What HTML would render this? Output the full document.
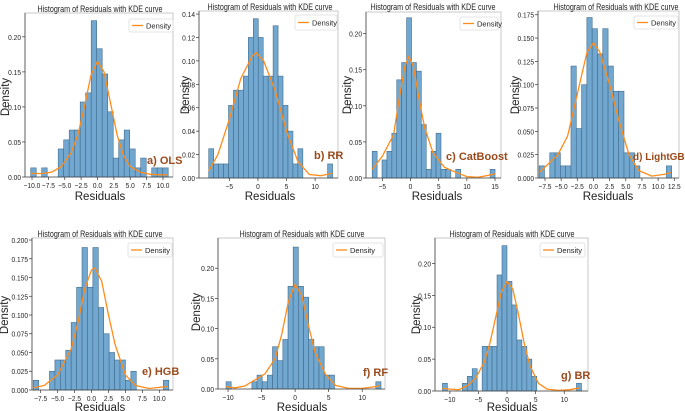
<!DOCTYPE html>
<html><head><meta charset="utf-8">
<style>
html,body{margin:0;padding:0;background:#fff;}
svg{display:block;font-family:"Liberation Sans",sans-serif;}
</style></head>
<body>
<svg id="fig" width="685" height="411" viewBox="0 0 685 411" xmlns="http://www.w3.org/2000/svg"></svg>
<script>
// ---------- data ----------
const aHeights=[0.013,0,0.013,0,0,0.04,0.053,0.067,0.067,0.107,0.12,0.223,0.183,0.147,0.093,0.027,0.053,0.067,0.04,0.013,0.027,0,0.013,0.013,0.013];
const aKdeX=[-10.2,-8.5,-7,-5.5,-4,-3,-2,-1,0,1,2,3,4,5,6.5,8,9.5,10.7];
const aKdeY=[0.005,0.005,0.007,0.015,0.035,0.06,0.1,0.145,0.165,0.15,0.105,0.06,0.03,0.015,0.007,0.004,0.003,0.003];
const aXTicks=[-10,-7.5,-5,-2.5,0,2.5,5,7.5,10];
const aYTicks=[0,0.05,0.1,0.15,0.2];

const bHeights=[0.025,0.012,0.012,0.012,0.062,0.075,0.075,0.087,0.12,0.136,0.12,0.087,0.087,0.13,0.087,0.062,0.04,0.012,0.025,0,0,0,0,0,0.012];
const bKdeX=[-8.6,-7,-5,-3,-1,-0.3,1,3,5,7,9,11,13];
const bKdeY=[0.006,0.02,0.05,0.085,0.104,0.107,0.1,0.075,0.04,0.014,0.003,0.002,0.004];
const bXTicks=[-5,0,5,10];
const bYTicks=[0,0.02,0.04,0.06,0.08,0.1,0.12,0.14];

const cHeights=[0.037,0,0.025,0.037,0.062,0.136,0.16,0.222,0.16,0.148,0.074,0.012,0.037,0.062,0.012,0.012,0,0.012,0,0,0,0,0,0,0.012];
const cKdeX=[-6.8,-5,-3,-2,-1,-0.3,0.5,1.5,2.5,4,6,8,10,12,14,15];
const cKdeY=[0.012,0.03,0.06,0.11,0.155,0.168,0.155,0.11,0.07,0.035,0.015,0.008,0.002,0.001,0.004,0.006];
const cXTicks=[-5,0,5,10,15];
const cYTicks=[0,0.05,0.1,0.15,0.2];

const dHeights=[0.013,0,0.027,0.027,0.013,0.013,0.12,0.053,0.1,0.172,0.16,0.133,0.16,0.12,0.093,0.093,0.027,0.027,0.013,0,0,0,0,0,0.013];
const dKdeX=[-8.4,-7,-5.5,-4,-2.5,-1,0,1,2.5,4,5.5,7,9,11,12];
const dKdeY=[0.006,0.015,0.025,0.045,0.09,0.135,0.145,0.135,0.1,0.06,0.025,0.008,0.002,0.004,0.006];
const dXTicks=[-7.5,-5,-2.5,0,2.5,5,7.5,10,12.5];
const dYTicks=[0,0.025,0.05,0.075,0.1,0.125,0.15,0.175];

const eHeights=[0.013,0,0,0.025,0.04,0.04,0.053,0.09,0.137,0.19,0.137,0.19,0.11,0.075,0.05,0.04,0.04,0.013,0.025,0,0,0,0,0,0.013];
const eKdeX=[-8.6,-7,-5,-3,-2,-1,0,0.5,1.5,2.5,3.5,5,6.5,8.5,10.5,11.3];
const eKdeY=[0.003,0.006,0.02,0.055,0.09,0.135,0.16,0.163,0.145,0.1,0.06,0.02,0.006,0.002,0.004,0.005];
const eXTicks=[-7.5,-5,-2.5,0,2.5,5,7.5,10];
const eYTicks=[0,0.025,0.05,0.075,0.1,0.125,0.15,0.175,0.2];

const fHeights=[0.012,0,0,0,0,0.012,0.023,0.012,0.023,0.07,0.047,0.082,0.17,0.235,0.17,0.152,0.082,0.07,0.07,0.023,0.023,0,0,0,0,0,0,0,0,0.012];
const fKdeX=[-10.3,-9,-7.5,-6,-4.5,-3,-2,-1,0,1,2,3,4.5,6,8,10,12,12.7];
const fKdeY=[0.004,0.002,0.005,0.015,0.025,0.05,0.09,0.145,0.173,0.155,0.105,0.06,0.025,0.006,0.001,0.001,0.004,0.006];
const fXTicks=[-10,-5,0,5,10];
const fYTicks=[0,0.05,0.1,0.15,0.2];

const gHeights=[0.012,0,0,0,0.012,0.023,0.035,0,0.07,0.07,0.07,0.182,0.228,0.172,0.135,0.08,0.07,0.05,0.023,0,0,0,0,0,0,0,0,0.012];
const gKdeX=[-11.3,-10,-8.5,-7,-5.5,-4,-3,-2,-1,0,1,2,3,4,5.5,7,9,11,12.7];
const gKdeY=[0.004,0.003,0.002,0.008,0.02,0.045,0.075,0.115,0.155,0.172,0.16,0.12,0.075,0.04,0.012,0.003,0.001,0.002,0.005];
const gXTicks=[-10,-5,0,5,10];
const gYTicks=[0,0.05,0.1,0.15,0.2];

// ---------- layout ----------
const panels=[
 {id:'ols',L:25,R:173,T:13,B:177,xmin:-11.07,xmax:11.53,ymax:0.234,bs:-10.2,bw:0.84,h:aHeights,kx:aKdeX,ky:aKdeY,xt:aXTicks,xd:1,yt:aYTicks,yd:2,
  title:[100,9],xl:[100,196],yl:[5,97],leg:[129,19,44,13],ann:'a) OLS',ap:[147,164]},
 {id:'rr',L:199,R:338,T:11,B:178,xmin:-10.3,xmax:14.0,ymax:0.1426,bs:-8.6,bw:0.866,h:bHeights,kx:bKdeX,ky:bKdeY,xt:bXTicks,xd:0,yt:bYTicks,yd:2,
  title:[270,7],xl:[270,196],yl:[185,95],leg:[295,15,42,15],ann:'b) RR',ap:[314,159]},
 {id:'catboost',L:366,R:501,T:12,B:178,xmin:-7.9,xmax:16.06,ymax:0.23,bs:-6.8,bw:0.872,h:cHeights,kx:cKdeX,ky:cKdeY,xt:cXTicks,xd:0,yt:cYTicks,yd:2,
  title:[433,7],xl:[437,196],yl:[347,95],leg:[460,17,38,13],ann:'c) CatBoost',ap:[446,160]},
 {id:'lightgbm',L:538,R:679,T:11,B:178,xmin:-8.58,xmax:13.23,ymax:0.179,bs:-8.4,bw:0.82,h:dHeights,kx:dKdeX,ky:dKdeY,xt:dXTicks,xd:1,yt:dYTicks,yd:3,
  title:[616,7],xl:[608,196],yl:[515,95],leg:[634,16,44,13],ann:'d) LightGBM',ap:[633,160]},
 {id:'hgb',L:32,R:173,T:238,B:390,xmin:-8.78,xmax:12.02,ymax:0.2027,bs:-8.6,bw:0.8,h:eHeights,kx:eKdeX,ky:eKdeY,xt:eXTicks,xd:1,yt:eYTicks,yd:3,
  title:[100,234],xl:[100,407],yl:[4,315],leg:[128,243,44,14],ann:'e) HGB',ap:[142,375]},
 {id:'rf',L:218,R:385,T:238,B:389,xmin:-11.5,xmax:13.4,ymax:0.25,bs:-10.3,bw:0.77,h:fHeights,kx:fKdeX,ky:fKdeY,xt:fXTicks,xd:0,yt:fYTicks,yd:2,
  title:[302,234],xl:[302,407],yl:[196,312],leg:[333,243,50,14],ann:'f) RF',ap:[363,376]},
 {id:'br',L:435,R:588,T:238,B:391,xmin:-12.6,xmax:14.15,ymax:0.24,bs:-11.3,bw:0.868,h:gHeights,kx:gKdeX,ky:gKdeY,xt:gXTicks,xd:0,yt:gYTicks,yd:2,
  title:[512,234],xl:[512,407],yl:[416,315],leg:[540,243,45,14],ann:'g) BR',ap:[561,379]}
];

const NS='http://www.w3.org/2000/svg';
const fig=document.getElementById('fig');
function mk(tag,attrs,parent){const e=document.createElementNS(NS,tag);for(const k in attrs)e.setAttribute(k,attrs[k]);(parent||fig).appendChild(e);return e;}
function fmt(v,d){const s=Math.abs(v).toFixed(d);return (v<0?'\u2212':'')+s;}

panels.forEach(p=>{
  const g=mk('g',{});
  
  
  const xs=v=>p.L+(v-p.xmin)/(p.xmax-p.xmin)*(p.R-p.L);
  const ys=v=>p.B-v/p.ymax*(p.B-p.T);
  const fr=mk('rect',{x:p.L,y:p.T,width:p.R-p.L,height:p.B-p.T,fill:'none',stroke:'#c8c8c8','stroke-width':1},g);
  
  
  p.h.forEach((h,i)=>{
    if(h<=0)return;
    const x0=xs(p.bs+i*p.bw),x1=xs(p.bs+(i+1)*p.bw);
    const r=mk('rect',{x:x0,y:ys(h),width:x1-x0,height:ys(0)-ys(h),fill:'#72a7cf',stroke:'#3f6c8f','stroke-width':0.6},g);
    
    
  });
  let d='';p.kx.forEach((x,i)=>{d+=(i?'L':'M')+xs(x).toFixed(1)+','+ys(p.ky[i]).toFixed(1);});
  const kl=mk('path',{d:d,fill:'none',stroke:'#ff8c1a','stroke-width':1.3},g);
  
  
  mk('line',{x1:p.L,y1:p.B,x2:p.R,y2:p.B,stroke:'#444','stroke-width':0.8},g);
  mk('line',{x1:p.L,y1:p.T,x2:p.L,y2:p.B,stroke:'#444','stroke-width':0.8},g);
  p.xt.forEach(v=>{
    const x=xs(v);
    mk('line',{x1:x,y1:p.B,x2:x,y2:p.B+3,stroke:'#333','stroke-width':0.7},g);
    const t=mk('text',{x:x,y:p.B+11,'font-size':7.5,'text-anchor':'middle',fill:'#222',transform:'translate('+x+' 0) scale(0.88 1) translate('+(-x)+' 0)'},g);
    t.textContent=fmt(v,p.xd);
    
    
  });
  p.yt.forEach(v=>{
    const y=ys(v);
    mk('line',{x1:p.L-3,y1:y,x2:p.L,y2:y,stroke:'#333','stroke-width':0.7},g);
    const xx=p.L-4;
    const t=mk('text',{x:xx,y:y+3,'font-size':7.5,'text-anchor':'end',fill:'#222',transform:'translate('+xx+' 0) scale(0.88 1) translate('+(-xx)+' 0)'},g);
    t.textContent=fmt(v,p.yd);
    
    
  });
  const tt=mk('text',{x:p.title[0],y:p.title[1]+3,'font-size':9.5,'text-anchor':'middle',fill:'#222',textLength:125,lengthAdjust:'spacingAndGlyphs'},g);
  tt.textContent='Histogram of Residuals with KDE curve';
  
  
  const xl=mk('text',{x:p.xl[0],y:p.xl[1]+4,'font-size':11.5,'text-anchor':'middle',fill:'#222'},g);
  xl.textContent='Residuals';
  
  
  const yl=mk('text',{x:p.yl[0],y:p.yl[1],'font-size':11.5,'text-anchor':'middle',fill:'#222',transform:'rotate(-90 '+p.yl[0]+' '+p.yl[1]+') translate(0 4)'},g);
  yl.textContent='Density';
  
  
  const lg=mk('g',{},g);
  
  
  const [lx,ly,lw,lh]=p.leg;
  mk('rect',{x:lx,y:ly,width:lw,height:lh,fill:'#fff',stroke:'#ddd','stroke-width':0.8,rx:2},lg);
  mk('line',{x1:lx+3,y1:ly+lh/2,x2:lx+14,y2:ly+lh/2,stroke:'#ff8c1a','stroke-width':1.3},lg);
  const lt=mk('text',{x:lx+17,y:ly+lh/2+3,'font-size':7.5,fill:'#222'},lg);
  lt.textContent='Density';
  
  
  const an=mk('text',{x:p.ap[0],y:p.ap[1],'font-size':p.id==='lightgbm'?10:11,'font-weight':'bold',fill:'#9a4a1c'},g);
  an.textContent=p.ann;
  
  
});
</script>
</body></html>
